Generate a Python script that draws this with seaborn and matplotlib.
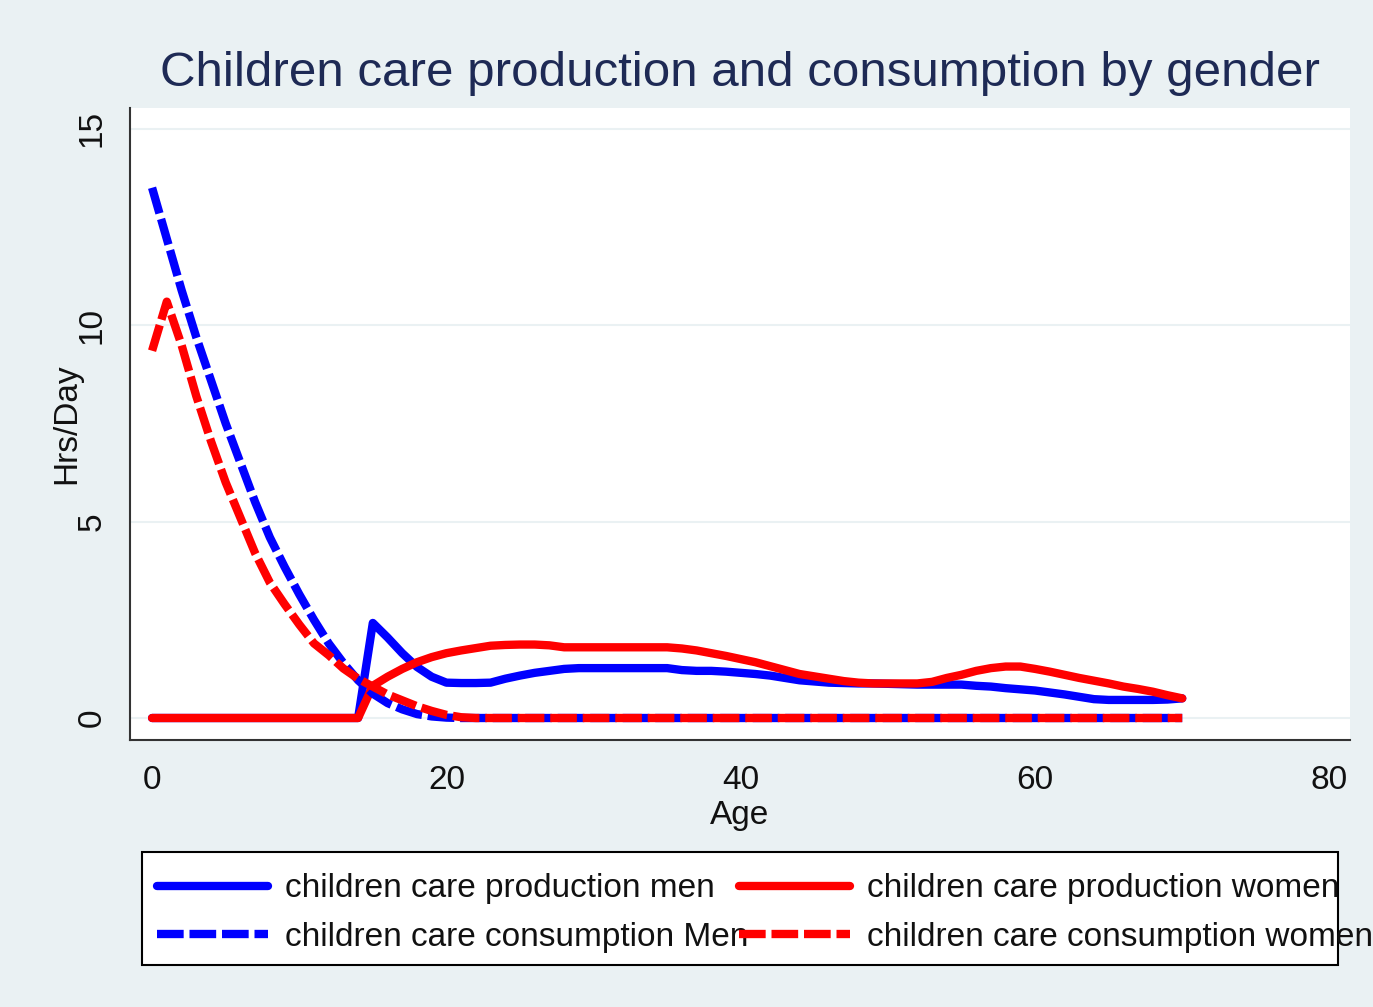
import numpy as np
import pandas as pd
import matplotlib
matplotlib.use("Agg")
import matplotlib.pyplot as plt
from matplotlib.patches import Rectangle
import seaborn as sns

ages = list(range(0, 71))

cons_men = [13.5, 12.2, 10.9, 9.7, 8.6, 7.5, 6.5, 5.5, 4.6, 3.85, 3.15, 2.5, 1.9, 1.4, 0.96,
            0.62, 0.38, 0.22, 0.1, 0.04, 0.01] + [0.0] * 50
cons_women = [9.35, 10.6, 9.5, 8.2, 7.05, 6.0, 5.1, 4.2, 3.45, 2.9, 2.38, 1.9, 1.6, 1.26, 1.0,
              0.8, 0.6, 0.45, 0.3, 0.18, 0.08, 0.02] + [0.0] * 49
prod_men = [0.0] * 15 + [2.42, 2.05, 1.65, 1.3, 1.05, 0.9, 0.89, 0.89, 0.9, 1.0, 1.08, 1.15, 1.2,
            1.25, 1.27, 1.27, 1.27, 1.27, 1.27, 1.27, 1.27, 1.22, 1.2, 1.2, 1.18, 1.15, 1.12,
            1.08, 1.02, 0.96, 0.93, 0.9, 0.89, 0.88, 0.88, 0.87, 0.86, 0.85, 0.85, 0.85, 0.85,
            0.82, 0.8, 0.76, 0.73, 0.7, 0.65, 0.6, 0.54, 0.48, 0.46, 0.46, 0.46, 0.46, 0.47, 0.5]
prod_women = [0.0] * 15 + [0.82, 1.05, 1.25, 1.42, 1.55, 1.65, 1.72, 1.78, 1.84, 1.86, 1.87, 1.87,
              1.85, 1.8, 1.8, 1.8, 1.8, 1.8, 1.8, 1.8, 1.8, 1.77, 1.72, 1.65, 1.58, 1.5, 1.42,
              1.32, 1.22, 1.12, 1.06, 1.0, 0.94, 0.9, 0.88, 0.88, 0.88, 0.88, 0.92, 1.02, 1.1,
              1.2, 1.27, 1.31, 1.31, 1.25, 1.18, 1.1, 1.02, 0.95, 0.88, 0.8, 0.74, 0.67, 0.58, 0.5]

labels = ["children care production men", "children care production women",
          "children care consumption Men", "children care consumption women"]
x_ticks = [0, 20, 40, 60, 80]
y_ticks = [0, 5, 10, 15]

sns.set_theme(style="white")
plt.rcParams['font.family'] = ['Liberation Sans', 'DejaVu Sans']

bg = "#EAF1F3"
fig = plt.figure(figsize=(13.73, 10.07), dpi=100, facecolor=bg)
ax = fig.add_axes([130 / 1373, 1 - 740 / 1007, (1350 - 130) / 1373, (740 - 108) / 1007])
ax.set_facecolor("white")

lw = 6
dash = (0, (3.2, 0.7))
sns.lineplot(x=ages, y=prod_men, color="#0000FF", linewidth=lw, ax=ax, label=labels[0])
sns.lineplot(x=ages, y=prod_women, color="#FF0000", linewidth=lw, ax=ax, label=labels[1])
sns.lineplot(x=ages, y=cons_men, color="#0000FF", linewidth=lw, linestyle=dash, ax=ax, label=labels[2])
sns.lineplot(x=ages, y=cons_women, color="#FF0000", linewidth=lw, linestyle=dash, ax=ax, label=labels[3])

ax.set_xlim(-1.5, 81.4)
ax.set_ylim(-0.56, 15.53)
ax.set_xticks(x_ticks)
ax.set_yticks(y_ticks)
ax.yaxis.grid(True, color="#EAF1F3", linewidth=1.5)
ax.xaxis.grid(False)
for s in ["top", "right"]:
    ax.spines[s].set_visible(False)
for s in ["left", "bottom"]:
    ax.spines[s].set_color("#333333")
    ax.spines[s].set_linewidth(1.5)
ax.tick_params(axis="both", which="major", direction="out", length=10, width=1.5,
               color="#333333", labelsize=24, labelcolor="#111111")
ax.tick_params(axis="x", pad=8)
ax.tick_params(axis="y", pad=6)
for t in ax.get_yticklabels():
    t.set_rotation(90)
    t.set_va("center")

ax.set_xlabel("Age", fontsize=24, color="#111111", labelpad=3)
ax.set_ylabel("Hrs/Day", fontsize=24, color="#111111", labelpad=-4)

fig.text(740 / 1373, 1 - 74 / 1007, "Children care production and consumption by gender",
         ha="center", va="center", fontsize=35.5, color="#1E2A55")

# legend frame (fixed box, text may overflow like the original)
fig.patches.append(Rectangle((142 / 1373, 1 - 965 / 1007), (1338 - 142) / 1373, (965 - 852) / 1007,
                             transform=fig.transFigure, facecolor="white", edgecolor="black",
                             linewidth=1.5, zorder=0))

handles, labs = ax.get_legend_handles_labels()
ax.get_legend().remove()
order = [0, 2, 1, 3]
leg = fig.legend([handles[i] for i in order], [labs[i] for i in order],
                 loc="center left", bbox_to_anchor=(157 / 1373, 1 - 913 / 1007),
                 ncol=2, fontsize=24, frameon=False,
                 handlelength=3.33, handletextpad=0.51, columnspacing=-0.27, labelspacing=0.52,
                 borderpad=0, borderaxespad=0)
for t in leg.get_texts():
    t.set_color("#111111")

fig.savefig("out.png", dpi=100, facecolor=bg)
